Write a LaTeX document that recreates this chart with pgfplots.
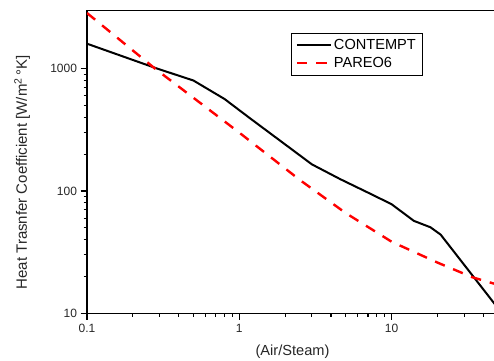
\documentclass[border=0pt]{standalone}
\usepackage{pgfplots}
\pgfplotsset{compat=1.18}
\usepackage{fontspec}
\setmainfont{Liberation Sans}
\begin{document}
\begin{tikzpicture}[x=1pt,y=1pt]
\begin{axis}[
  at={(87pt,46.7pt)}, anchor=south west,
  scale only axis, width=411pt, height=303pt,
  xmode=log, ymode=log,
  xmin=0.1, xmax=50, ymin=10, ymax=3000,
  log ticks with fixed point,
  /pgf/number format/1000 sep={},
  tick pos=left, tick align=outside,
  major tick length=6.5pt, minor tick length=3.5pt,
  every tick/.style={black, line width=1.1pt},
  axis line style={line width=1.2pt},
  /pgf/number format/assume math mode=true,
  tick label style={font=\fontsize{12}{14}\selectfont, color=black!85},
  xticklabel style={yshift=-1pt},
  label style={font=\fontsize{15}{17}\selectfont, color=black!85},
  xlabel={(Air/Steam)},
  ylabel={Heat Trasnfer Coefficient [W/m\textsuperscript{2}\,°K]},
  xlabel style={at={(axis description cs:0.5,-0.128)}, anchor=center, font=\fontsize{14.6}{17}\selectfont},
  ylabel style={at={(axis description cs:-0.158,0.465)}, anchor=center},
  legend style={at={(rel axis cs:0.496,0.924)}, anchor=north west,
    draw=black, font=\fontsize{14.6}{16}\selectfont,
    inner xsep=4.5pt, inner ysep=4pt, row sep=2pt,
    nodes={inner sep=2pt}},
  legend cell align=left,
  legend image code/.code={\draw[#1] plot coordinates {(0pt,0pt) (34pt,0pt)};},
]
\addplot[black, line width=2pt] coordinates {
(0.1,1600) (0.29,1000) (0.5,800) (0.8,565) (1.17,395) (3,165) (4.6,125) (7,97) (10,78) (14,57) (18,50.5) (21,44) (50,11)};
\addlegendentry{CONTEMPT}
\addplot[red, line width=2.4pt, dash pattern=on 10.5pt off 9pt] coordinates {
(0.1,2850) (0.28,1000) (1,300) (2.5,123) (5,66) (10,38.5) (20,26) (34,19.7) (50,17.1)};
\addlegendentry{PAREO6}
\end{axis}
\pgfresetboundingbox
\path[use as bounding box] (0,0) rectangle (494,360);
\end{tikzpicture}
\end{document}
